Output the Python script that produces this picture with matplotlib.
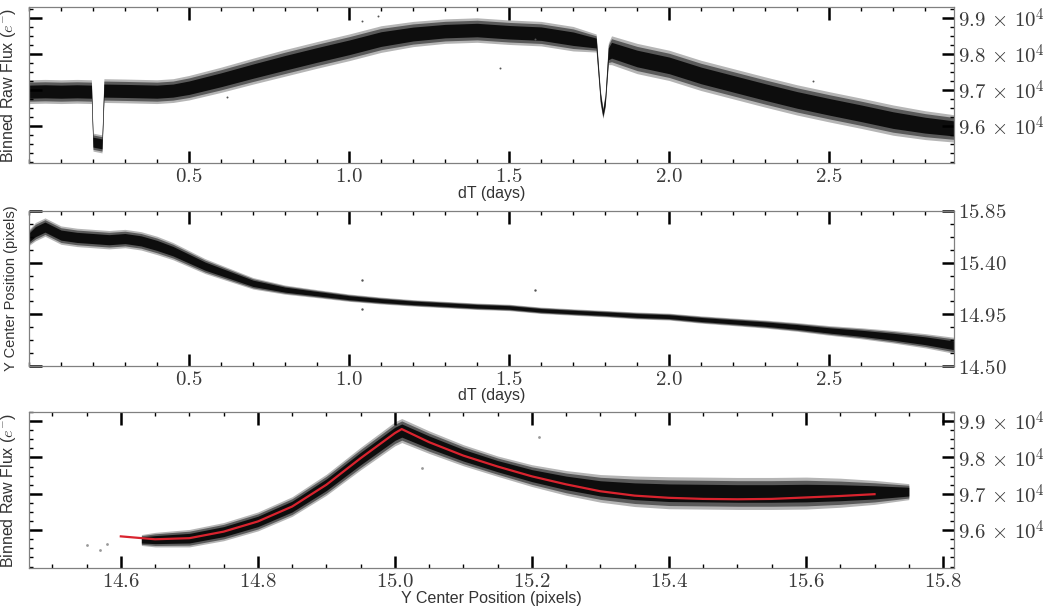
import numpy as np
import matplotlib.pyplot as plt
from matplotlib.ticker import FixedLocator, MultipleLocator, FuncFormatter

plt.rcParams['mathtext.fontset'] = 'cm'
plt.rcParams['font.family'] = ['Liberation Sans', 'DejaVu Sans']

# %% Data

# panel 1: binned raw flux vs dT, band centre and half width (e-)
t_flux = [0.00, 0.05, 0.10, 0.15, 0.195, 0.200, 0.228, 0.234, 0.30, 0.35, 0.40, 0.45,
          0.50, 0.60, 0.70, 0.80, 0.90, 1.00, 1.10, 1.20, 1.30, 1.40, 1.50, 1.60,
          1.70, 1.772, 1.785, 1.793, 1.800, 1.810, 1.82, 1.90, 2.00, 2.10, 2.20,
          2.30, 2.40, 2.50, 2.60, 2.70, 2.80, 2.89]
flux_mid = [96950, 96960, 96950, 96960, 96950, 95550, 95500, 96980, 96970, 96960, 96950, 96980,
            97060, 97280, 97520, 97750, 97970, 98180, 98410, 98550, 98630, 98660, 98600, 98560,
            98420, 98300, 96800, 96350, 96700, 98000, 98100, 97870, 97680, 97400, 97170,
            96940, 96720, 96530, 96350, 96160, 96020, 95930]
flux_hw = [330, 330, 330, 330, 330, 250, 250, 330, 330, 330, 330, 330,
           340, 350, 360, 370, 370, 370, 370, 350, 340, 340, 340, 340,
           340, 250, 200, 150, 200, 300, 400, 420, 420, 420, 420,
           420, 420, 420, 420, 420, 400, 380]

# panel 2: Y centre position vs dT, band centre and half width (pixels)
t_pos = [0.00, 0.02, 0.05, 0.10, 0.15, 0.20, 0.25, 0.30, 0.35, 0.40, 0.45, 0.50, 0.55,
         0.60, 0.65, 0.70, 0.80, 0.90, 1.00, 1.10, 1.20, 1.30, 1.40, 1.50, 1.60, 1.70,
         1.80, 1.90, 2.00, 2.10, 2.20, 2.30, 2.40, 2.50, 2.60, 2.70, 2.80, 2.89]
pos_mid = [15.62, 15.67, 15.71, 15.64, 15.62, 15.61, 15.60, 15.61, 15.59, 15.55, 15.50, 15.435, 15.37,
           15.32, 15.27, 15.22, 15.165, 15.13, 15.095, 15.07, 15.05, 15.035, 15.02, 15.01, 14.985, 14.97,
           14.956, 14.94, 14.93, 14.905, 14.885, 14.865, 14.84, 14.81, 14.785, 14.755, 14.72, 14.68]
pos_hw = [0.07, 0.08, 0.08, 0.08, 0.08, 0.08, 0.08, 0.08, 0.08, 0.08, 0.075, 0.07, 0.065,
          0.06, 0.055, 0.05, 0.04, 0.035, 0.032, 0.03, 0.028, 0.028, 0.028, 0.028, 0.028, 0.028,
          0.028, 0.03, 0.03, 0.032, 0.033, 0.035, 0.038, 0.042, 0.048, 0.055, 0.062, 0.07]

# panel 3: flux vs Y centre position, cloud centre / half width and red fit
y_cloud = [14.63, 14.65, 14.70, 14.75, 14.80, 14.85, 14.90, 14.95, 15.00, 15.01, 15.05, 15.10,
           15.15, 15.20, 15.25, 15.30, 15.35, 15.40, 15.45, 15.50, 15.55, 15.60, 15.65, 15.70, 15.75]
cloud_mid = [95730, 95740, 95780, 95960, 96240, 96650, 97250, 97970, 98650, 98740, 98420, 98060,
             97760, 97500, 97300, 97150, 97070, 97030, 97020, 97010, 97010, 97020, 97030, 97040, 97060]
cloud_hw = [150, 200, 240, 250, 260, 270, 290, 310, 330, 330, 310, 290,
            280, 300, 340, 380, 420, 440, 440, 440, 440, 440, 400, 330, 220]

fit_x = [14.60, 14.65, 14.70, 14.75, 14.80, 14.85, 14.90, 14.95, 15.00, 15.01, 15.05, 15.10,
         15.15, 15.20, 15.25, 15.30, 15.35, 15.40, 15.45, 15.50, 15.55, 15.60, 15.65, 15.70]
fit_y = [95830, 95750, 95780, 95960, 96240, 96650, 97250, 97980, 98670, 98780, 98420, 98050,
         97750, 97480, 97260, 97070, 96950, 96890, 96860, 96850, 96860, 96900, 96940, 96990]

# stray points
out1_t = [1.04, 1.09, 1.47, 1.58, 0.62, 2.45]
out1_f = [98900, 99050, 97600, 98400, 96800, 97250]
out2_t = [1.04, 1.04, 1.58]
out2_p = [15.25, 15.00, 15.16]
out3_y = [14.55, 14.57, 14.58, 15.21, 15.04]
out3_f = [95580, 95450, 95620, 98550, 97700]

flux_ticks = [96000, 97000, 98000, 99000]
pos_ticks = [14.50, 14.95, 15.40, 15.85]
dt_ticks = [0.5, 1.0, 1.5, 2.0, 2.5]
yc_ticks = [14.6, 14.8, 15.0, 15.2, 15.4, 15.6, 15.8]

# %% Figure

fig = plt.figure(figsize=(10.55, 6.12), dpi=100)
left, width = 29 / 1055, 925 / 1055
ax1 = fig.add_axes([left, 1 - 163 / 612, width, 156 / 612])
ax2 = fig.add_axes([left, 1 - 366 / 612, width, 155 / 612])
ax3 = fig.add_axes([left, 1 - 568 / 612, width, 156 / 612])


def band(ax, x, mid, hw):
    # scatter cloud drawn as nested bands: sparse edge, dense core
    mid = np.array(mid, dtype=float)
    hw = np.array(hw, dtype=float)
    ax.fill_between(x, mid - hw, mid + hw, color='#b5b5b5', linewidth=0)
    ax.fill_between(x, mid - 0.8 * hw, mid + 0.8 * hw, color='#5a5a5a', linewidth=0)
    ax.fill_between(x, mid - 0.55 * hw, mid + 0.55 * hw, color='#0d0d0d', linewidth=0)


band(ax1, t_flux, flux_mid, flux_hw)
ax1.scatter(out1_t, out1_f, s=2, color='#555555', lw=0)
band(ax2, t_pos, pos_mid, pos_hw)
ax2.scatter(out2_t, out2_p, s=3, color='#555555', lw=0)
band(ax3, y_cloud, cloud_mid, cloud_hw)
ax3.scatter(out3_y, out3_f, s=4, color='#999999', lw=0)
ax3.plot(fit_x, fit_y, color='#d9232e', lw=1.6)

sci = FuncFormatter(lambda v, p: r'$%.1f\,\times\,10^{4}$' % (v / 1e4))
one = FuncFormatter(lambda v, p: r'$%.1f$' % v)

ax1.set_xlim(0, 2.89)
ax1.set_ylim(94970, 99300)
ax1.yaxis.set_major_locator(FixedLocator(flux_ticks))
ax1.yaxis.set_minor_locator(MultipleLocator(250))
ax1.yaxis.set_major_formatter(sci)

ax2.set_xlim(0, 2.89)
ax2.set_ylim(14.50, 15.85)
ax2.yaxis.set_major_locator(FixedLocator(pos_ticks))
ax2.yaxis.set_minor_locator(FixedLocator([14.5 + 0.1125 * i for i in range(13)]))
ax2.yaxis.set_major_formatter(FuncFormatter(lambda v, p: r'$%.2f$' % v))

ax3.set_xlim(14.466, 15.816)
ax3.set_ylim(94960, 99250)
ax3.yaxis.set_major_locator(FixedLocator(flux_ticks))
ax3.yaxis.set_minor_locator(MultipleLocator(250))
ax3.yaxis.set_major_formatter(sci)
ax3.xaxis.set_major_locator(FixedLocator(yc_ticks))
ax3.xaxis.set_minor_locator(MultipleLocator(0.05))

for ax in (ax1, ax2):
    ax.xaxis.set_major_locator(FixedLocator(dt_ticks))
    ax.xaxis.set_minor_locator(MultipleLocator(0.1))

for ax in (ax1, ax2, ax3):
    ax.xaxis.set_major_formatter(one)
    ax.tick_params(which='both', direction='in', top=True, right=True, left=True,
                   labelleft=False, labelright=True, color='black', labelcolor='#3a3a3a')
    ax.tick_params(which='major', length=9, width=1.8, labelsize=15, pad=3)
    ax.tick_params(which='minor', length=3, width=1.0)
    for s in ax.spines.values():
        s.set_color('#808080')
        s.set_linewidth(0.9)

ax1.set_ylabel(r'Binned Raw Flux ($e^{-}$)', fontsize=11.5, color='#333333')
ax2.set_ylabel('Y Center Position (pixels)', fontsize=10.5, color='#333333')
ax3.set_ylabel(r'Binned Raw Flux ($e^{-}$)', fontsize=11.5, color='#333333')
ax1.set_xlabel('dT (days)', fontsize=11.5, color='#333333')
ax2.set_xlabel('dT (days)', fontsize=11.5, color='#333333')
ax3.set_xlabel('Y Center Position (pixels)', fontsize=11.5, color='#333333')
for ax in (ax1, ax2, ax3):
    ax.yaxis.set_label_coords(-0.012, 0.5)
    ax.xaxis.set_label_coords(0.5, -0.145)

fig.savefig('out.png', dpi=100)
